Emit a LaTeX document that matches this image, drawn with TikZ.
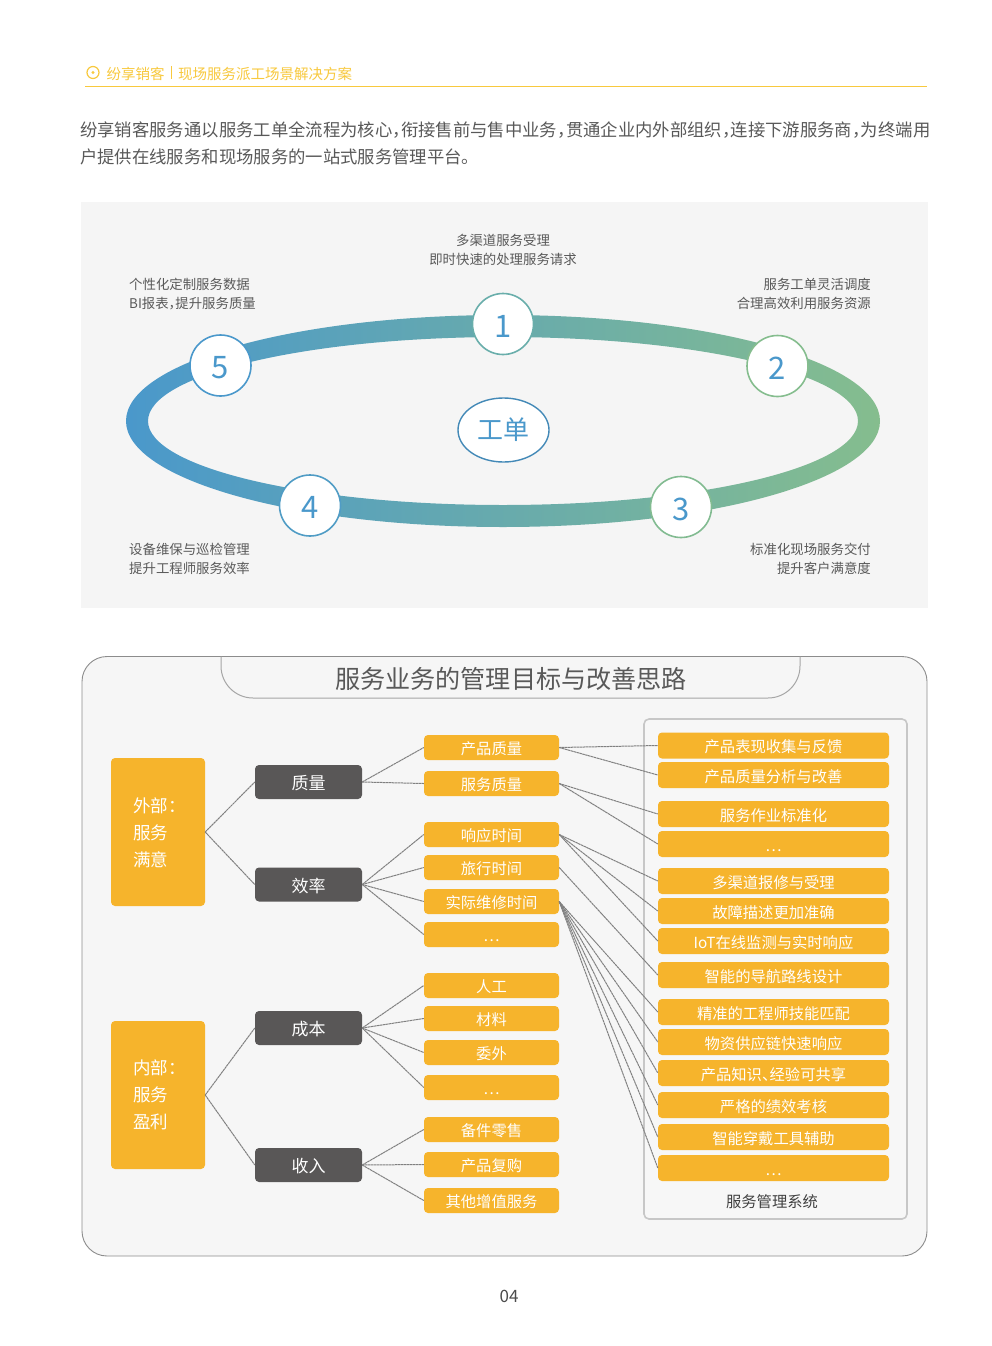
\documentclass[tikz,border=0pt]{standalone}
\usepackage{fontspec}
\usetikzlibrary{shapes.geometric}
\setmainfont[RawFeature=+halt]{Noto Sans CJK SC}
\definecolor{boxgold}{HTML}{F6B42C}
\definecolor{boxdark}{HTML}{595757}
\definecolor{textgray}{HTML}{595959}
\definecolor{headgold}{HTML}{F8C93E}
\definecolor{ringblue}{HTML}{4A98CB}
\definecolor{ringmid}{HTML}{69AEAB}
\definecolor{ringgreen}{HTML}{85BD8E}
\begin{document}
\begin{tikzpicture}[
  x=1pt,
  y=-1pt,
  node distance=30pt,
  outerbox/.style = {
    draw=none,
    shape=rectangle,
    rounded corners=4pt,
    fill=boxgold,
    minimum width=94pt,
    minimum height=148pt,
    inner sep=0pt
  },
  darkbox/.style = {
    shape=rectangle,
    rounded corners=4pt,
    fill=boxdark,
    text=white,
    minimum width=107pt,
    minimum height=34pt,
    inner sep=0pt,
    text height=15pt,
    text depth=0pt,
    font=\fontsize{17}{20}\selectfont
  },
  midbox/.style = {
    shape=rectangle,
    rounded corners=4pt,
    fill=boxgold,
    text=white,
    minimum width=135pt,
    minimum height=25pt,
    inner sep=0pt,
    text height=14pt,
    text depth=0pt,
    font=\fontsize{15.3}{18}\selectfont
  },
  rightbox/.style = {
    midbox,
    minimum width=231pt,
    minimum height=26pt
  },
  stepnum/.style = {
    draw,
    shape=circle,
    line width=1.6pt,
    fill=white,
    text=ringblue,
    minimum size=61pt,
    inner sep=0pt,
    text height=26pt,
    text depth=0pt,
    font=\fontsize{31}{34}\selectfont
  },
  note/.style = {
    text=textgray,
    inner sep=0pt,
    font=\fontsize{13.4}{19}\selectfont
  },
  link/.style = {
    draw=gray,
    line width=1pt,
    dash pattern=on 2.5pt off 0.5pt
  },
]
  \useasboundingbox (0,0) rectangle (992,1346);
  \fill[white] (0,0) rectangle (992,1346);

  % page head
  \node (headmark)[draw=headgold, shape=circle, line width=1.2pt, minimum size=12pt, inner sep=0pt] at (93,72.5) {};
  \fill[headgold] (headmark.center) circle (1.6);
  \node (headbrand)[anchor=west, text=headgold, inner sep=0pt, font=\fontsize{14.5}{17}\selectfont] at (106.5,73.5) {纷享销客};
  \node (headtitle)[anchor=west, text=headgold, inner sep=0pt, font=\fontsize{14.5}{17}\selectfont] at (178,73.5) {现场服务派工场景解决方案};
  \coordinate (headsepa) at (171.5,66);
  \coordinate (headsepb) at (171.5,79);
  \draw[headgold, line width=0.5pt] (headsepa) -- (headsepb);
  \coordinate (headrulea) at (85,86.5);
  \coordinate (headruleb) at (927,86.5);
  \draw[headgold, line width=1pt] (headrulea) -- (headruleb);
  \node (intro)[anchor=north west, align=left, text=textgray, inner sep=0pt, font=\fontsize{17.35}{27}\selectfont] at (80,122) {纷享销客服务通以服务工单全流程为核心，衔接售前与售中业务，贯通企业内外部组织，连接下游服务商，为终端用\\户提供在线服务和现场服务的一站式服务管理平台。};

  % ring panel
  \fill[black!4] (81,202) rectangle (928,608);
  \path[even odd rule, left color=ringblue, middle color=ringmid, right color=ringgreen]
    (503,421) ellipse [x radius=377, y radius=106]
    (503,421) ellipse [x radius=355, y radius=84];
  \node (order)[draw=ringblue!90!black, shape=ellipse, line width=1.4pt, fill=white, text=ringblue, minimum width=91pt, minimum height=64pt, inner sep=0pt, font=\fontsize{26}{29}\selectfont] at (503.5,430) {工单};
  \node (one)[stepnum, draw=ringmid] at (503,324) {1};
  \node (two)[stepnum, draw=ringgreen] at (777.5,366) {2};
  \node (three)[stepnum, draw=ringgreen!90!ringmid] at (681,507) {3};
  \node (four)[stepnum, draw=ringblue!80!ringmid] at (310,505.5) {4};
  \node (five)[stepnum, draw=ringblue] at (220.5,365.5) {5};
  \node (noteone)[note, align=center] at (503,249.5) {多渠道服务受理\\即时快速的处理服务请求};
  \node (notetwo)[note, align=right, anchor=east] at (871,293.5) {服务工单灵活调度\\合理高效利用服务资源};
  \node (notethree)[note, align=right, anchor=east] at (871,558.5) {标准化现场服务交付\\提升客户满意度};
  \node (notefour)[note, align=left, anchor=west] at (129,558.5) {设备维保与巡检管理\\提升工程师服务效率};
  \node (notefive)[note, align=left, anchor=west] at (129,294) {个性化定制服务数据\\BI报表，提升服务质量};

  % goals panel
  \draw[draw=black!45, fill=black!3.5, line width=0.9pt, rounded corners=25pt] (82,656.5) rectangle (927,1256);
  \draw[draw=black!35, line width=1pt, rounded corners=32pt] (221,656.5) -- (221,698) -- (800,698) -- (800,656.5);
  \node (goaltitle)[text=textgray, inner sep=0pt, font=\fontsize{25.1}{28}\selectfont] at (511,679) {服务业务的管理目标与改善思路};

  \node (outside)[outerbox] at (158,832) {};
  \node (inside)[outerbox] at (158,1095) {};
  \node (outsidetext)[anchor=north west, align=left, text=white, inner sep=0pt, font=\fontsize{17.5}{27}\selectfont] at (133,797.5) {外部：\\服务\\满意};
  \node (insidetext)[anchor=north west, align=left, text=white, inner sep=0pt, font=\fontsize{17.5}{27}\selectfont] at (133,1060) {内部：\\服务\\盈利};

  \node (quality)[darkbox] at (308.5,782) {质量};
  \node (speed)[darkbox] at (308.5,884.5) {效率};
  \node (cost)[darkbox] at (308.5,1028) {成本};
  \node (income)[darkbox] at (308.5,1165) {收入};

  \node (prodq)[midbox] at (491.5,747.5) {产品质量};
  \node (servq)[midbox, below of=prodq, yshift=-6pt] {服务质量};
  \node (resp)[midbox, below of=servq, yshift=-21pt] {响应时间};
  \node (travel)[midbox, below of=resp, yshift=-3pt] {旅行时间};
  \node (repair)[midbox, below of=travel, yshift=-4pt] {实际维修时间};
  \node (speedmore)[midbox, below of=repair, yshift=-3pt] {…};
  \node (labor)[midbox, below of=speedmore, yshift=-21pt] {人工};
  \node (material)[midbox, below of=labor, yshift=-3pt] {材料};
  \node (outsource)[midbox, below of=material, yshift=-4pt] {委外};
  \node (costmore)[midbox, below of=outsource, yshift=-5pt] {…};
  \node (spare)[midbox, below of=costmore, yshift=-12pt] {备件零售};
  \node (rebuy)[midbox, below of=spare, yshift=-5pt] {产品复购};
  \node (valueadd)[midbox, below of=rebuy, yshift=-6pt] {其他增值服务};

  \node (system)[draw=black!22, fill=black!3, line width=1.6pt, rounded corners=5pt, minimum width=263pt, minimum height=500pt, inner sep=0pt] at (775.5,969) {};
  \node (systemname)[text=black!75, inner sep=0pt, font=\fontsize{15.3}{18}\selectfont] at (772,1201.5) {服务管理系统};

  \node (feedback)[rightbox] at (773.5,745.5) {产品表现收集与反馈};
  \node (analysis)[rightbox, below of=feedback, yshift=0.5pt] {产品质量分析与改善};
  \node (standard)[rightbox, below of=analysis, yshift=-9pt] {服务作业标准化};
  \node (servmore)[rightbox, below of=standard] {…};
  \node (channel)[rightbox, below of=servmore, yshift=-7pt] {多渠道报修与受理};
  \node (fault)[rightbox, below of=channel] {故障描述更加准确};
  \node (iot)[rightbox, below of=fault] {IoT在线监测与实时响应};
  \node (route)[rightbox, below of=iot, yshift=-4pt] {智能的导航路线设计};
  \node (skill)[rightbox, below of=route, yshift=-7pt] {精准的工程师技能匹配};
  \node (supply)[rightbox, below of=skill] {物资供应链快速响应};
  \node (share)[rightbox, below of=supply, yshift=-1pt] {产品知识、经验可共享};
  \node (perform)[rightbox, below of=share, yshift=-2pt] {严格的绩效考核};
  \node (wear)[rightbox, below of=perform, yshift=-2pt] {智能穿戴工具辅助};
  \node (sysmore)[rightbox, below of=wear, yshift=-1pt] {…};

  \draw[link] (outside.east) -- (quality.west);
  \draw[link] (outside.east) -- (speed.west);
  \draw[link] (inside.east) -- (cost.west);
  \draw[link] (inside.east) -- (income.west);

  \draw[link] (quality.east) -- (prodq.west);
  \draw[link] (quality.east) -- (servq.west);
  \draw[link] (speed.east) -- (resp.west);
  \draw[link] (speed.east) -- (travel.west);
  \draw[link] (speed.east) -- (repair.west);
  \draw[link] (speed.east) -- (speedmore.west);
  \draw[link] (cost.east) -- (labor.west);
  \draw[link] (cost.east) -- (material.west);
  \draw[link] (cost.east) -- (outsource.west);
  \draw[link] (cost.east) -- (costmore.west);
  \draw[link] (income.east) -- (spare.west);
  \draw[link] (income.east) -- (rebuy.west);
  \draw[link] (income.east) -- (valueadd.west);

  \draw[link] (prodq.east) -- (feedback.west);
  \draw[link] (prodq.east) -- (analysis.west);
  \draw[link] (servq.east) -- (standard.west);
  \draw[link] (servq.east) -- (servmore.west);
  \draw[link] (resp.east) -- (channel.west);
  \draw[link] (resp.east) -- (fault.west);
  \draw[link] (resp.east) -- (iot.west);
  \draw[link] (travel.east) -- (route.west);
  \draw[link] (repair.east) -- (skill.west);
  \draw[link] (repair.east) -- (supply.west);
  \draw[link] (repair.east) -- (share.west);
  \draw[link] (repair.east) -- (perform.west);
  \draw[link] (repair.east) -- (wear.west);
  \draw[link] (repair.east) -- (sysmore.west);

  \node (pageno)[text=black!70, inner sep=0pt, font=\fontsize{17}{20}\selectfont] at (509,1296) {04};
\end{tikzpicture}
\end{document}
